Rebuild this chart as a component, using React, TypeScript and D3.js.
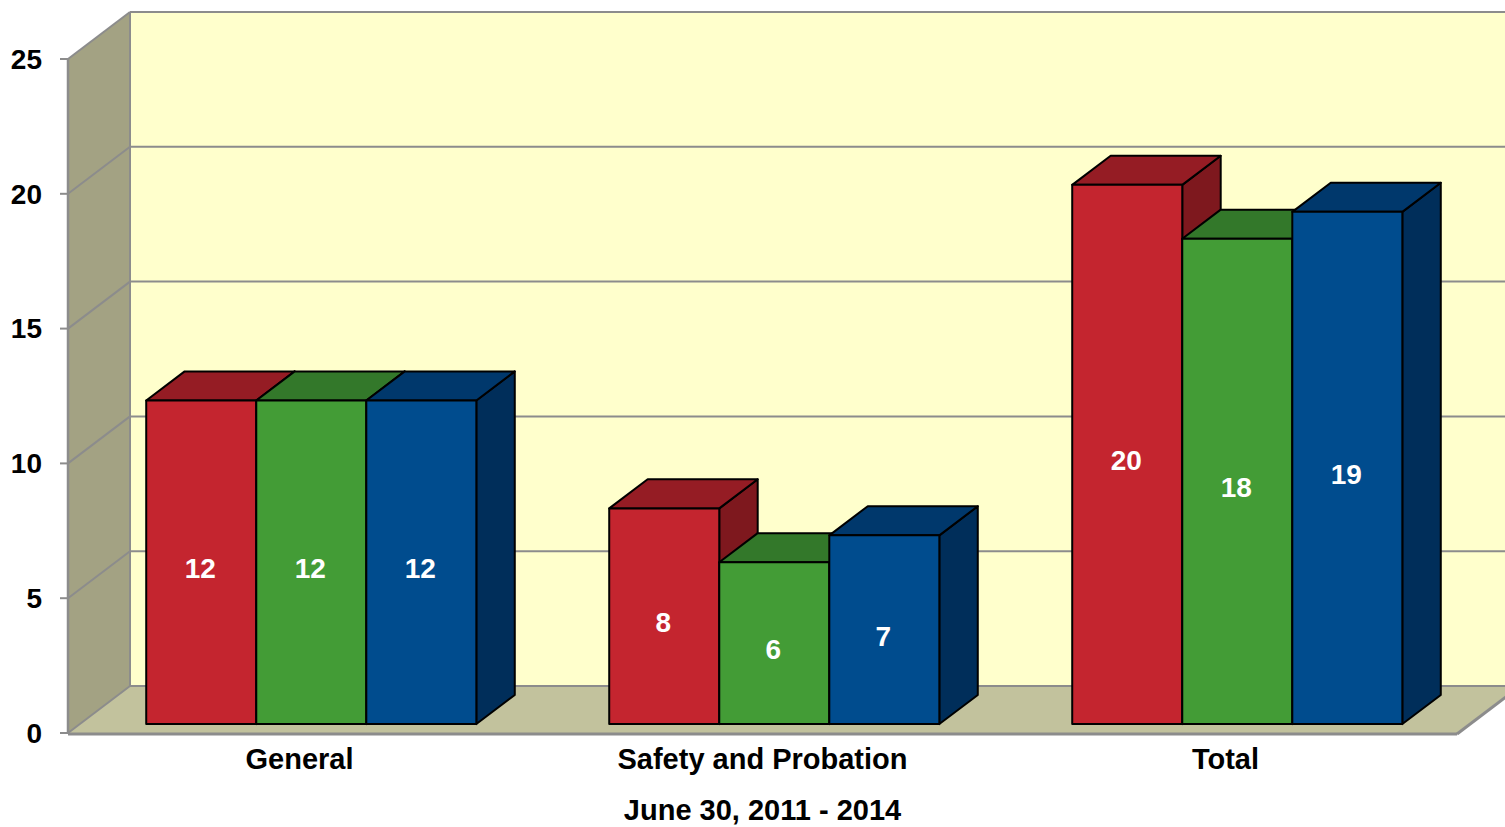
import React from 'react';
import * as d3 from 'd3';

const categories = ['General', 'Safety and Probation', 'Total'];
const seriesNames = ['2011-12', '2012-13', '2013-14'];
const redValues = [12, 8, 20];
const greenValues = [12, 6, 18];
const blueValues = [12, 7, 19];
const yTicks = [0, 5, 10, 15, 20, 25];
const xTitle = 'June 30, 2011 - 2014';

const palette = [
  { front: '#C4252F', top: '#951C24', side: '#7E181E' },
  { front: '#439C36', top: '#33782A', side: '#2C6624' },
  { front: '#004C8E', top: '#00386C', side: '#002E5A' },
];

const W = 1505;
const H = 827;
const FONT = '"Liberation Sans", Arial, sans-serif';

const App = () => {
  const series = [redValues, greenValues, blueValues];
  const left = 68;
  const right = 1457;
  const y = d3.scaleLinear().domain([0, 25]).range([733, 59]);
  const x0 = d3.scaleBand<string>().domain(categories).range([left, right])
    .paddingInner(0.287).paddingOuter(0.1435);
  const x1 = d3.scaleBand<string>().domain(seriesNames).range([0, x0.bandwidth()]);

  // depth of the box and where the bars sit inside it
  const DX = 62;
  const DY = -47;
  const f0 = 0.19;
  const f1 = 0.81;
  const base = y(0);
  const top = y(25);

  const pts = (p: number[][]) => p.map(d => d.join(',')).join(' ');

  const bars: JSX.Element[] = [];
  categories.forEach((c, ci) => {
    seriesNames.forEach((s, si) => {
      const v = series[si][ci];
      const col = palette[si];
      const xa = x0(c)! + x1(s)! + DX * f0;
      const xb = xa + x1.bandwidth();
      const yb = base + DY * f0;
      const yt = y(v) + DY * f0;
      const ox = DX * (f1 - f0);
      const oy = DY * (f1 - f0);
      bars.push(
        <g key={c + s} stroke="#000" strokeWidth={2} strokeLinejoin="round">
          <polygon points={pts([[xb, yt], [xb + ox, yt + oy], [xb + ox, yb + oy], [xb, yb]])} fill={col.side} />
          <polygon points={pts([[xa, yt], [xa + ox, yt + oy], [xb + ox, yt + oy], [xb, yt]])} fill={col.top} />
          <rect x={xa} y={yt} width={xb - xa} height={yb - yt} fill={col.front} />
          <text x={(xa + xb) / 2 - 1} y={(yt + yb) / 2 + 6} dy="0.35em" textAnchor="middle"
            fill="#fff" stroke="none" fontFamily={FONT} fontWeight="bold" fontSize={28}>{v}</text>
        </g>
      );
    });
  });

  return (
    <div style={{ position: 'absolute', left: 0, top: 0 }}>
      <svg width={W} height={H} style={{ display: 'block', background: '#fff' }}>
        {/* back wall */}
        <rect x={left + DX} y={top + DY} width={right - left} height={base - top} fill="#FFFFCC" />
        {/* left wall */}
        <polygon points={pts([[left, top], [left + DX, top + DY], [left + DX, base + DY], [left, base]])} fill="#A3A283" />
        {/* floor */}
        <polygon points={pts([[left, base], [left + DX, base + DY], [right + DX, base + DY], [right, base]])} fill="#C2C29D" />
        {yTicks.map(t => (
          <g key={t} stroke="#8C8C8C" strokeWidth={2}>
            <line x1={left} y1={y(t)} x2={left + DX} y2={y(t) + DY} />
            <line x1={left + DX} y1={y(t) + DY} x2={right + DX} y2={y(t) + DY} />
            <line x1={left - 8} y1={y(t)} x2={left} y2={y(t)} />
          </g>
        ))}
        <line x1={left + DX} y1={top + DY} x2={left + DX} y2={base + DY} stroke="#8C8C8C" strokeWidth={2} />
        <line x1={left} y1={top} x2={left} y2={base} stroke="#8C8C8C" strokeWidth={2.5} />
        <line x1={left} y1={base + 1} x2={right} y2={base + 1} stroke="#8C8C8C" strokeWidth={3} />
        <line x1={right} y1={base + 1} x2={right + DX} y2={base + DY + 1} stroke="#8C8C8C" strokeWidth={3} />
        {bars}
        {yTicks.map(t => (
          <text key={t} x={42} y={y(t)} dy="0.35em" textAnchor="end" fontFamily={FONT}
            fontWeight="bold" fontSize={28} fill="#000">{t}</text>
        ))}
        {categories.map(c => (
          <text key={c} x={x0(c)! + x0.bandwidth() / 2} y={759} dy="0.35em" textAnchor="middle"
            fontFamily={FONT} fontWeight="bold" fontSize={29} fill="#000">{c}</text>
        ))}
        <text x={(left + right) / 2} y={810} dy="0.35em" textAnchor="middle" fontFamily={FONT}
          fontWeight="bold" fontSize={29} fill="#000">{xTitle}</text>
      </svg>
    </div>
  );
};

export default App;
